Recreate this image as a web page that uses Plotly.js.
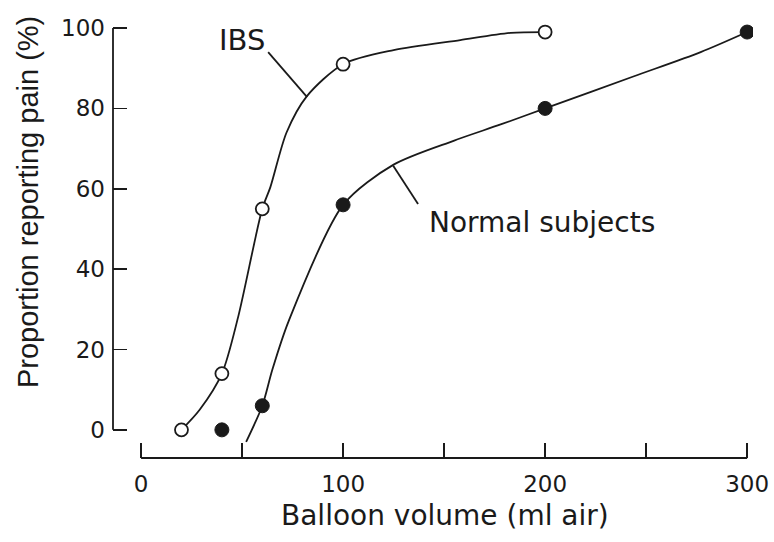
<!DOCTYPE html>
<html>
<head>
<meta charset="utf-8">
<script src="https://cdn.plot.ly/plotly-3.0.1.min.js"></script>
<style>html,body{margin:0;padding:0;background:#fff;}#chart{width:774px;height:542px;}</style>
</head>
<body>
<div id="chart"></div>
<script>
// Measured points
const ibsVolume = [20, 40, 60, 100, 200];
const ibsPain = [0, 14, 55, 91, 99];
const normalVolume = [40, 60, 100, 200, 300];
const normalPain = [0, 6, 56, 80, 99];

// Fitted curves
const ibsCurveX = [20, 29, 40, 48, 60, 64, 72, 82, 100, 125, 158, 183, 200];
const ibsCurveY = [0, 5, 14, 28, 55, 60.4, 74, 83, 91, 94.5, 97, 98.8, 99];
const normalCurveX = [52, 60, 65, 73, 100, 125, 155, 178, 200, 244, 277, 300];
const normalCurveY = [-3, 6, 15, 27, 56, 66, 72, 76, 80, 88, 94, 99];

// Tick labels
const xTicks = [0, 100, 200, 300];
const yTicks = [0, 20, 40, 60, 80, 100];

const ink = '#1a1a1a';
const traces = [
  {x: ibsCurveX, y: ibsCurveY, mode: 'lines', line: {color: ink, width: 1.8, shape: 'spline', smoothing: 0.8}, hoverinfo: 'skip', showlegend: false},
  {x: normalCurveX, y: normalCurveY, mode: 'lines', line: {color: ink, width: 1.8, shape: 'spline', smoothing: 0.8}, hoverinfo: 'skip', showlegend: false},
  {x: ibsVolume, y: ibsPain, mode: 'markers', name: 'IBS', marker: {symbol: 'circle', size: 13, color: '#ffffff', line: {color: ink, width: 1.8}}, showlegend: false},
  {x: normalVolume, y: normalPain, mode: 'markers', name: 'Normal subjects', marker: {symbol: 'circle', size: 14, color: ink, line: {color: ink, width: 1}}, showlegend: false}
];

const layout = {
  width: 774, height: 542,
  margin: {l: 113, r: 21, t: 22, b: 84},
  paper_bgcolor: '#ffffff', plot_bgcolor: '#ffffff',
  showlegend: false,
  font: {family: 'DejaVu Sans, sans-serif', color: ink},
  xaxis: {
    range: [-13.9, 302.9], showgrid: false, zeroline: false, showline: false,
    tickvals: xTicks, ticktext: xTicks.map(String),
    ticks: 'inside', ticklen: 15, tickwidth: 1.8, tickcolor: ink,
    minor: {dtick: 50, tick0: 0, ticks: 'inside', ticklen: 15, tickwidth: 1.8, tickcolor: ink},
    tickfont: {size: 23, family: 'DejaVu Sans, sans-serif', color: ink},
    ticklabelstandoff: 10
  },
  yaxis: {
    range: [-7, 101.5], showgrid: false, zeroline: false, showline: false,
    tickvals: yTicks, ticktext: yTicks.map(String),
    ticks: 'inside', ticklen: 14, tickwidth: 1.8, tickcolor: ink,
    tickfont: {size: 23, family: 'DejaVu Sans, sans-serif', color: ink},
    ticklabelstandoff: 7
  },
  shapes: [
    {type: 'line', xref: 'paper', yref: 'y', x0: 0, x1: 0, y0: 0, y1: 100, line: {color: ink, width: 1.8}},
    {type: 'line', xref: 'x', yref: 'paper', x0: 0, x1: 300, y0: 0, y1: 0, line: {color: ink, width: 1.8}},
    {type: 'line', xref: 'x', yref: 'y', x0: 62.9, y0: 94.0, x1: 82.2, y1: 82.8, line: {color: ink, width: 1.8}},
    {type: 'line', xref: 'x', yref: 'y', x0: 124.8, y0: 65.7, x1: 137.1, y1: 56.2, line: {color: ink, width: 1.8}}
  ],
  annotations: [
    {text: 'IBS', xref: 'x', yref: 'y', x: 50, y: 97, showarrow: false, xanchor: 'center', yanchor: 'middle', font: {size: 29, family: 'DejaVu Sans, sans-serif', color: ink}},
    {text: 'Normal subjects', xref: 'x', yref: 'y', x: 198.5, y: 51.5, showarrow: false, xanchor: 'center', yanchor: 'middle', font: {size: 28, family: 'DejaVu Sans, sans-serif', color: ink}},
    {text: 'Balloon volume (ml air)', xref: 'paper', yref: 'paper', x: 0.519, y: -0.131, showarrow: false, xanchor: 'center', yanchor: 'middle', font: {size: 28, family: 'DejaVu Sans, sans-serif', color: ink}},
    {text: 'Proportion reporting pain (%)', xref: 'paper', yref: 'paper', x: -0.1328, y: 0.587, textangle: -90, showarrow: false, xanchor: 'center', yanchor: 'middle', font: {size: 29, family: 'Liberation Sans, Arial, sans-serif', color: ink}}
  ]
};

Plotly.newPlot('chart', traces, layout, {displayModeBar: false, staticPlot: true});
</script>
</body>
</html>
